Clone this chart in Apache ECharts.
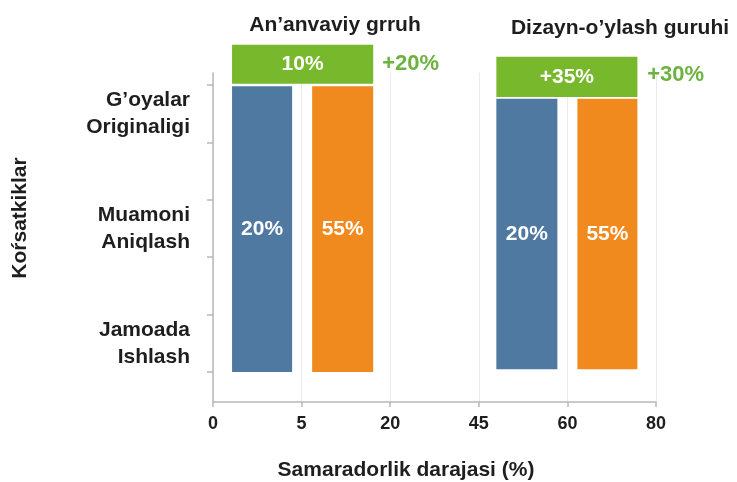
<!DOCTYPE html>
<html>
<head>
<meta charset="utf-8">
<script src="https://cdn.jsdelivr.net/npm/echarts@6.0.0/dist/echarts.min.js"></script>
<style>html,body{margin:0;padding:0;background:#fff;}#chart{width:737px;height:482px;}</style>
</head>
<body>
<div id="chart"></div>
<script>
// ---- data ----
const xTickLabels = ['0', '5', '20', '45', '60', '80'];
const yCategories = ['G’oyalar\nOriginaligi', 'Muamoni\nAniqlash', 'Jamoada\nIshlash'];
const yCategoryPos = [4.5, 2.5, 0.5];
const yTickPos = [0, 1, 2, 3, 4, 5];
const groupTitles = ['An’anvaviy grruh', 'Dizayn-o’ylash guruhi'];
// bars as [xStart, xEnd, yBottom, yTop] in axis units
const blueBars = [[0.215, 0.893, 0, 4.98], [3.198, 3.887, 0.05, 4.76]];
const blueLabels = ['20%', '20%'];
const orangeBars = [[1.119, 1.808, 0, 4.98], [4.113, 4.79, 0.05, 4.76]];
const orangeLabels = ['55%', '55%'];
const greenBars = [[0.215, 1.808, 5.02, 5.70], [3.198, 4.79, 4.79, 5.49]];
const greenLabels = ['10%', '+35%'];
const sidePoints = [[1.91, 5.37], [4.90, 5.17]];
const sideLabels = ['+20%', '+30%'];
const xAxisTitle = 'Samaradorlik darajasi (%)';
const yAxisTitle = 'Koŕsatkiklar';

const FONT = 'Liberation Sans, Arial, sans-serif';
const DARK = '#1e1e1e';

function rectSeries(bars, labels, color) {
  return {
    type: 'custom', clip: false, data: bars,
    encode: { x: [0, 1], y: [2, 3] },
    renderItem: function (params, api) {
      const p0 = api.coord([api.value(0), api.value(3)]);
      const p1 = api.coord([api.value(1), api.value(2)]);
      return {
        type: 'rect',
        shape: { x: p0[0], y: p0[1], width: p1[0] - p0[0], height: p1[1] - p0[1] },
        style: { fill: color },
        textContent: { style: { text: labels[params.dataIndex], fill: '#fff', fontSize: 21, fontWeight: 'bold', fontFamily: FONT } },
        textConfig: { position: 'inside' }
      };
    }
  };
}

const chart = echarts.init(document.getElementById('chart'), null, { renderer: 'canvas' });
chart.setOption({
  backgroundColor: '#ffffff',
  animation: false,
  grid: { left: 213, right: 81, top: 73, bottom: 80 },
  xAxis: {
    type: 'value', min: 0, max: 5, interval: 1,
    axisLine: { show: true, onZero: false, lineStyle: { color: '#b8b8b8', width: 1.5 } },
    axisTick: { show: true, length: 5, lineStyle: { color: '#b8b8b8', width: 1.5 } },
    splitLine: { show: true, lineStyle: { color: '#ebebeb', width: 1 } },
    axisLabel: {
      margin: 13, color: DARK, fontSize: 18, fontWeight: 'bold', fontFamily: FONT,
      formatter: function (v) { return xTickLabels[Math.round(v)]; }
    }
  },
  yAxis: {
    type: 'value', min: -0.5226, max: 5.209,
    axisLine: { show: true, onZero: false, lineStyle: { color: '#b8b8b8', width: 1.5 } },
    axisTick: { show: true, length: 6, customValues: yTickPos, lineStyle: { color: '#b8b8b8', width: 1.5 } },
    splitLine: { show: false },
    axisLabel: {
      customValues: yCategoryPos, margin: 23, color: DARK, fontSize: 21, fontWeight: 'bold', fontFamily: FONT,
      lineHeight: 27, align: 'right',
      formatter: function (v) {
        const i = yCategoryPos.findIndex(function (p) { return Math.abs(p - v) < 0.01; });
        return i >= 0 ? yCategories[i] : '';
      }
    }
  },
  graphic: [
    { type: 'text', x: 335, y: 25, style: { text: groupTitles[0], align: 'center', verticalAlign: 'middle', fontSize: 21, fontWeight: 'bold', fontFamily: FONT, fill: DARK } },
    { type: 'text', x: 620, y: 28, style: { text: groupTitles[1], align: 'center', verticalAlign: 'middle', fontSize: 21, fontWeight: 'bold', fontFamily: FONT, fill: DARK } },
    { type: 'text', x: 406, y: 470, style: { text: xAxisTitle, align: 'center', verticalAlign: 'middle', fontSize: 21, fontWeight: 'bold', fontFamily: FONT, fill: DARK } },
    { type: 'text', x: 20, y: 218, rotation: Math.PI / 2, style: { text: yAxisTitle, align: 'center', verticalAlign: 'middle', fontSize: 21, fontWeight: 'bold', fontFamily: FONT, fill: DARK } }
  ],
  series: [
    rectSeries(blueBars, blueLabels, '#4f79a0'),
    rectSeries(orangeBars, orangeLabels, '#f08a1f'),
    rectSeries(greenBars, greenLabels, '#77b82c'),
    {
      type: 'custom', clip: false, data: sidePoints,
      encode: { x: 0, y: 1 },
      renderItem: function (params, api) {
        const p = api.coord([api.value(0), api.value(1)]);
        return {
          type: 'text', x: p[0], y: p[1],
          style: { text: sideLabels[params.dataIndex], align: 'left', verticalAlign: 'middle', fontSize: 22, fontWeight: 'bold', fontFamily: FONT, fill: '#6db33f' }
        };
      }
    }
  ]
});
</script>
</body>
</html>
